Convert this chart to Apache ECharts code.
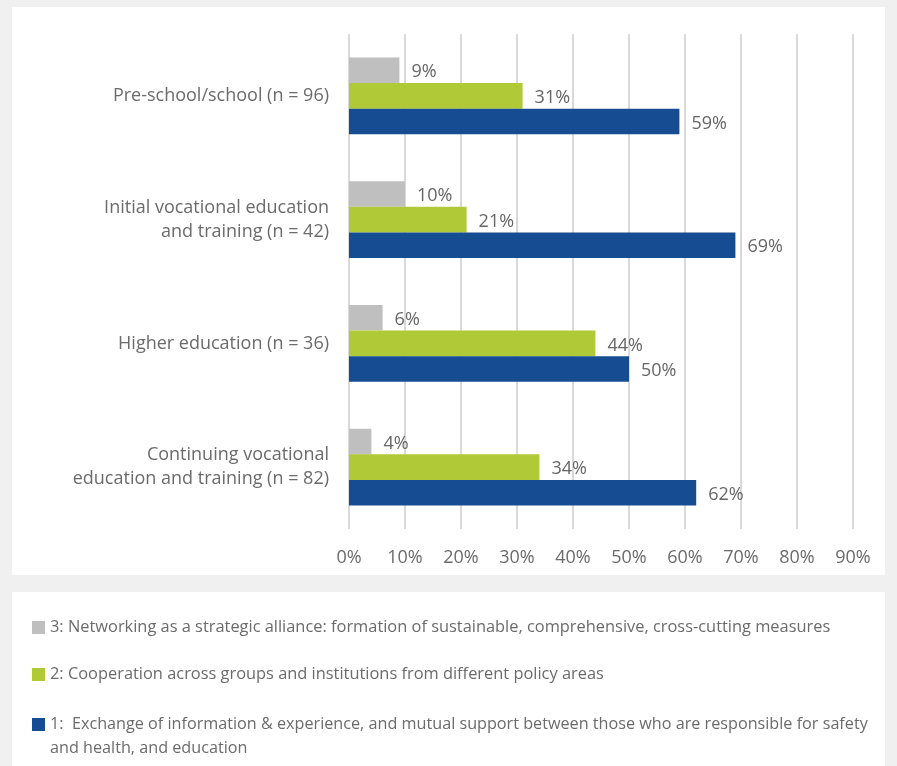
<!DOCTYPE html>
<html>
<head>
<meta charset="utf-8">
<script src="https://cdn.jsdelivr.net/npm/echarts@6/dist/echarts.min.js"></script>
<style>
html,body{margin:0;padding:0;background:#f0f0f0;}
#chart{width:897px;height:766px;}
</style>
</head>
<body>
<div id="chart"></div>
<script>
const categories = [
  'Pre-school/school (n = 96)',
  'Initial vocational education\nand training (n = 42)',
  'Higher education (n = 36)',
  'Continuing vocational\neducation and training (n = 82)'
];
const seriesNames = [
  '1:  Exchange of information & experience, and mutual support between those who are responsible for safety and health, and education',
  '2: Cooperation across groups and institutions from different policy areas',
  '3: Networking as a strategic alliance: formation of sustainable, comprehensive, cross-cutting measures'
];
const level1 = [59, 69, 50, 62];
const level2 = [31, 21, 44, 34];
const level3 = [9, 10, 6, 4];
const xTicks = [0, 10, 20, 30, 40, 50, 60, 70, 80, 90];

const colors = ['#164c91', '#afca36', '#bfbfbf'];
const FONT = 'Open Sans';
const textColor = '#6b6b6b';

const chart = echarts.init(document.getElementById('chart'));

function barSeries(name, data, color) {
  return {
    name: name,
    type: 'bar',
    data: data,
    barGap: '0%',
    barCategoryGap: '38%',
    itemStyle: { color: color },
    label: {
      show: true,
      position: 'right',
      distance: 12,
      offset: [0, 2],
      formatter: '{c}%',
      color: '#666666',
      fontSize: 18,
      fontFamily: FONT
    },
    emphasis: { disabled: true }
  };
}

const option = {
  animation: false,
  backgroundColor: '#f0f0f0',
  graphic: [
    { type: 'rect', z: -10, shape: { x: 12, y: 7, width: 873, height: 568 }, style: { fill: '#ffffff' } },
    { type: 'rect', z: -10, shape: { x: 12, y: 592, width: 873, height: 180 }, style: { fill: '#ffffff' } }
  ],
  grid: { left: 349, right: 44, top: 34, bottom: 237, containLabel: false },
  xAxis: {
    type: 'value',
    min: xTicks[0],
    max: xTicks[xTicks.length - 1],
    interval: 10,
    axisLine: { show: false },
    axisTick: { show: false },
    splitLine: { show: true, showMinLine: true, showMaxLine: true, lineStyle: { color: '#d9d9d9', width: 2 } },
    axisLabel: {
      formatter: '{value}%',
      margin: 20,
      color: textColor,
      fontSize: 18,
      fontFamily: FONT
    }
  },
  yAxis: {
    type: 'category',
    data: categories,
    inverse: true,
    axisLine: { show: false },
    axisTick: { show: false },
    axisLabel: {
      margin: 20,
      color: textColor,
      fontSize: 18,
      lineHeight: 24,
      fontFamily: FONT
    }
  },
  legend: [
    {
      orient: 'vertical',
      left: 32,
      top: 619.5,
      height: 140,
      padding: 0,
      itemWidth: 13,
      itemHeight: 13,
      itemGap: 31,
      icon: 'rect',
      selectedMode: false,
      textStyle: { color: textColor, fontSize: 16.4, fontFamily: FONT },
      data: [seriesNames[2], seriesNames[1]]
    },
    {
      orient: 'vertical',
      left: 32,
      top: 688.5,
      height: 100,
      padding: 0,
      itemWidth: 13,
      itemHeight: 13,
      icon: 'rect',
      selectedMode: false,
      textStyle: { color: textColor, fontSize: 16.2, fontFamily: FONT, lineHeight: 24 },
      data: [seriesNames[0]],
      formatter: function (name) {
        return ' \n1:  Exchange of information & experience, and mutual support between those who are responsible for safety\nand health, and education';
      }
    }
  ],
  series: [
    barSeries(seriesNames[2], level3, colors[2]),
    barSeries(seriesNames[1], level2, colors[1]),
    barSeries(seriesNames[0], level1, colors[0])
  ]
};
chart.setOption(option);
</script>
</body>
</html>
